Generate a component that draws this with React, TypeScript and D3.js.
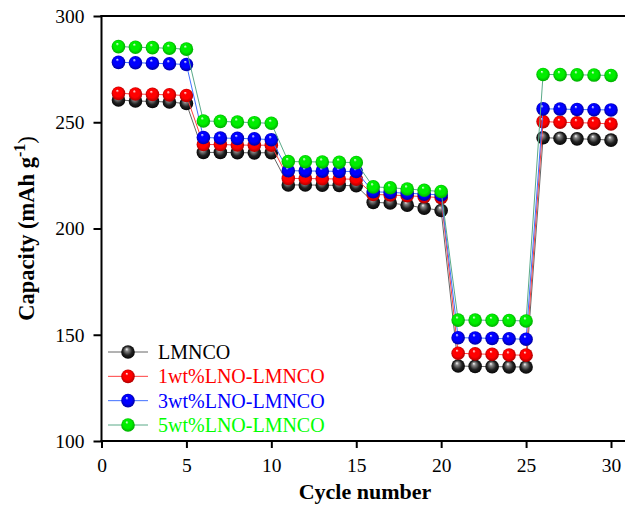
import * as d3 from 'd3'
import {useRef, useEffect} from 'react'

const cycles = [1, 2, 3, 4, 5, 6, 7, 8, 9, 10, 11, 12, 13, 14, 15, 16, 17, 18, 19, 20, 21, 22, 23, 24, 25, 26, 27, 28, 29, 30]

const lmnco = [260.5, 260, 259.8, 259.5, 258.8, 235.8, 235.8, 235.7, 235.6, 235.7, 220.5, 220.5, 220.4, 220.3, 220.1, 212.3, 212, 211, 209.6, 208.5, 135.3, 135.1, 135, 134.9, 134.8, 242.7, 242.5, 242.2, 242, 241.6]
const lno1 = [263.6, 263.3, 263.1, 262.9, 262.6, 239.5, 239.5, 239.3, 239.2, 239.2, 223.6, 223.5, 223.4, 223.3, 223.2, 216, 215.8, 215.4, 215, 214.5, 141.3, 141, 140.8, 140.5, 140.4, 250.3, 250, 249.8, 249.6, 249.2]
const lno3 = [278.2, 278, 277.8, 277.5, 277.2, 242.8, 242.6, 242.4, 242.2, 241.8, 227.2, 227.1, 227, 226.9, 226.8, 217.3, 217, 216.6, 216.2, 215.8, 148.6, 148.5, 148.3, 148.1, 147.9, 256.3, 256.2, 256, 255.9, 255.8]
const lno5 = [285.6, 285.3, 285.1, 284.8, 284.4, 250.6, 250.4, 250.1, 249.8, 249.5, 231.5, 231.4, 231.3, 231.2, 231, 219.6, 219.2, 218.6, 218, 217.4, 156.9, 156.9, 156.8, 156.7, 156.5, 272.5, 272.4, 272.3, 272.2, 272]

const seriesNames = ['LMNCO', '1wt%LNO-LMNCO', '3wt%LNO-LMNCO', '5wt%LNO-LMNCO']
const seriesValues = [lmnco, lno1, lno3, lno5]
const xTicks = [0, 5, 10, 15, 20, 25, 30]
const yTicks = [100, 150, 200, 250, 300]

const colors = ['#000000', '#ff0000', '#0000ff', '#00ff00']
const lineColors = ['#666666', '#ff4040', '#4070ff', '#5aaa88']
const dark = ['#000000', '#a00000', '#000090', '#00a000']
const mid = ['#222222', '#ff0000', '#0000ff', '#00ee00']

const width = 625
const height = 506
const left = 101.5
const right = 611
const top = 16
const bottom = 441
const font = '"Liberation Serif", "Times New Roman", serif'

const App = () => {
  const svgRef = useRef<SVGSVGElement>(null)

  useEffect(() => {
    const svg = d3.select(svgRef.current)
    svg.selectAll('*').remove()

    const x = d3.scaleLinear().domain([0, 30]).range([left, right])
    const y = d3.scaleLinear().domain([100, 300]).range([bottom, top])

    const defs = svg.append('defs')
    colors.forEach((c, i) => {
      const g = defs.append('radialGradient')
        .attr('id', 'ball' + i)
        .attr('cx', '50%').attr('cy', '50%').attr('r', '55%')
        .attr('fx', '40%').attr('fy', '28%')
      g.append('stop').attr('offset', '0%').attr('stop-color', '#ffffff')
      g.append('stop').attr('offset', '22%').attr('stop-color', i === 0 ? '#888888' : mid[i])
      g.append('stop').attr('offset', '60%').attr('stop-color', mid[i])
      g.append('stop').attr('offset', '100%').attr('stop-color', dark[i])
    })

    const line = d3.line<number>()
      .x((d, i) => x(cycles[i]))
      .y((d) => y(d))

    seriesValues.forEach((vals, i) => {
      svg.append('path')
        .attr('d', line(vals))
        .attr('fill', 'none')
        .attr('stroke', lineColors[i])
        .attr('stroke-width', 1)
      svg.append('g')
        .selectAll('circle')
        .data(vals)
        .join('circle')
        .attr('cx', (d, j) => x(cycles[j]))
        .attr('cy', (d) => y(d))
        .attr('r', 6.8)
        .attr('fill', `url(#ball${i})`)
    })

    // axes
    const xAxis = d3.axisBottom(x).tickValues(xTicks).tickSize(7).tickSizeOuter(0).tickPadding(10)
    const yAxis = d3.axisLeft(y).tickValues(yTicks).tickSize(8).tickSizeOuter(0).tickPadding(9)

    const gx = svg.append('g')
      .attr('transform', `translate(0,${bottom})`)
      .call(xAxis)
    const gy = svg.append('g')
      .attr('transform', `translate(${left},0)`)
      .call(yAxis)

    gx.select('.domain').attr('d', `M${left - 1},0H${width}`)
    ;[gx, gy].forEach((g) => {
      g.select('.domain').attr('stroke-width', 2).attr('stroke', '#000')
      g.selectAll('.tick line').attr('stroke-width', 2).attr('stroke', '#000')
      g.selectAll('.tick text')
        .attr('font-family', font)
        .attr('font-size', 19.5)
        .attr('fill', '#000')
    })
    gy.select('.domain').attr('d', `M0,${bottom + 1}V${top - 1}`)

    svg.append('line')
      .attr('x1', left - 1).attr('x2', width)
      .attr('y1', top).attr('y2', top)
      .attr('stroke', '#000').attr('stroke-width', 2)

    svg.append('text')
      .attr('x', 365)
      .attr('y', 499)
      .attr('text-anchor', 'middle')
      .attr('font-family', font)
      .attr('font-weight', 'bold')
      .attr('font-size', 22)
      .text('Cycle number')

    const yt = svg.append('text')
      .attr('transform', `translate(34,${(top + bottom) / 2}) rotate(-90)`)
      .attr('text-anchor', 'middle')
      .attr('font-family', font)
      .attr('font-weight', 'bold')
      .attr('font-size', 22.5)
    yt.append('tspan').text('Capacity (mAh g')
    yt.append('tspan').attr('dy', -9).attr('font-size', 16).text('-1')
    yt.append('tspan').attr('dy', 9).attr('font-weight', 'normal').text(')')

    // legend
    const legendY = d3.scaleLinear().domain([0, 3]).range([352, 425])
    seriesNames.forEach((name, i) => {
      const ly = legendY(i)
      svg.append('line')
        .attr('x1', 108).attr('x2', 148)
        .attr('y1', ly).attr('y2', ly)
        .attr('stroke', lineColors[i]).attr('stroke-width', 1)
      svg.append('circle')
        .attr('cx', 128).attr('cy', ly).attr('r', 6.8)
        .attr('fill', `url(#ball${i})`)
      svg.append('text')
        .attr('x', 158).attr('y', ly + 7)
        .attr('font-family', font)
        .attr('font-size', 20)
        .attr('fill', colors[i])
        .text(name)
    })
  }, [])

  return (
    <svg ref={svgRef} width={width} height={height}
         style={{position: 'absolute', left: 0, top: 0, background: '#fff'}}/>
  )
}

export default App
